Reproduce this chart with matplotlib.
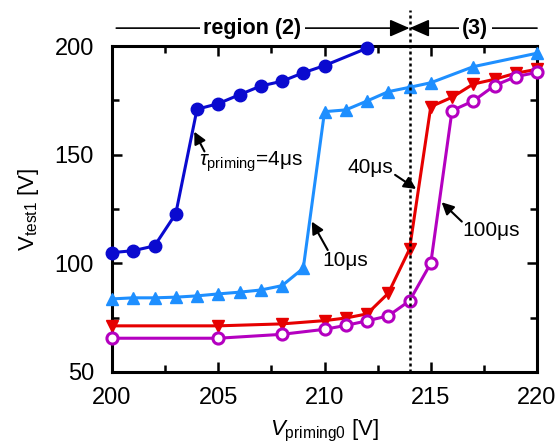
import matplotlib
matplotlib.use("Agg")
import matplotlib.pyplot as plt
import matplotlib.transforms as mtransforms

plt.rcParams['font.family'] = ['Liberation Sans', 'DejaVu Sans']
plt.rcParams['mathtext.fontset'] = 'custom'
plt.rcParams['mathtext.rm'] = 'Liberation Sans'
plt.rcParams['mathtext.it'] = 'Liberation Sans:italic'

# Data
x_4us = [200, 201, 202, 203, 204, 205, 206, 207, 208, 209, 210, 212]
y_4us = [104.9, 105.8, 108.0, 122.8, 170.9, 173.5, 177.6, 181.6, 183.8, 187.7, 191.0, 199.0]

x_10us = [200, 201, 202, 203, 204, 205, 206, 207, 208, 209, 210, 211, 212, 213, 214, 215, 217, 220]
y_10us = [83.6, 84.1, 84.1, 84.4, 85.0, 85.9, 86.7, 87.7, 89.7, 97.7, 169.8, 170.6, 174.7, 179.0, 181.0, 183.1, 190.5, 196.7]

x_40us = [200, 205, 208, 210, 211, 212, 213, 214, 215, 216, 217, 218, 219, 220]
y_40us = [71.2, 71.2, 72.1, 73.6, 74.8, 76.7, 86.2, 106.5, 172.1, 176.4, 182.5, 184.7, 187.5, 189.3]

x_100us = [200, 205, 208, 210, 211, 212, 213, 214, 215, 216, 217, 218, 219, 220]
y_100us = [65.5, 65.5, 67.3, 69.6, 71.4, 73.5, 75.8, 82.7, 100.0, 170.3, 174.7, 181.8, 185.9, 187.9]

fig = plt.figure(figsize=(5.6, 4.47), dpi=100)
ax = fig.add_axes([0.2, 0.168, 0.759, 0.729])

lw = 2.2
ms = 9
ax.plot(x_4us, y_4us, '-o', color='#0A0ACF', lw=lw, ms=ms, zorder=3, clip_on=False)
ax.plot(x_10us, y_10us, '-^', color='#1E8FFF', lw=lw, ms=ms, zorder=3, clip_on=False)
ax.plot(x_40us, y_40us, '-v', color='#E60000', lw=lw, ms=ms, zorder=4, clip_on=False)
ax.plot(x_100us, y_100us, '-o', color='#B400C0', lw=lw, ms=ms - 1,
        mfc='white', mew=2.2, zorder=4, clip_on=False)

ax.set_xlim(200, 220)
ax.set_ylim(50, 200)
ax.set_xticks([200, 205, 210, 215, 220])
ax.set_xticks([202.5, 207.5, 212.5, 217.5], minor=True)
ax.set_yticks([50, 100, 150, 200])
ax.set_yticks([75, 125, 175], minor=True)
ax.tick_params(which='both', direction='in', top=True, right=True, width=1.8,
               labelsize=17)
ax.tick_params(which='major', length=7)
ax.tick_params(which='minor', length=5)
ax.tick_params(axis='y', which='major', pad=13)
ax.tick_params(axis='x', which='major', pad=11)
for s in ax.spines.values():
    s.set_linewidth(2.2)

ax.set_xlabel(r'$V_{\rm priming0}$ [V]', fontsize=16, labelpad=6)
ax.set_ylabel(r'V$_{\rm test1}$ [V]', fontsize=16, labelpad=10)

# vertical dotted line
trans = mtransforms.blended_transform_factory(ax.transData, ax.transAxes)
ax.plot([214, 214], [0, 1.11], transform=trans, color='black', lw=1.8,
        linestyle=(0, (1.2, 1.2)), clip_on=False, zorder=5)

# region annotations
yr = 1.055
arr = dict(arrowstyle='-|>,head_length=0.8,head_width=0.35', color='black',
           lw=1.2, shrinkA=0, shrinkB=0, mutation_scale=15)
ax.annotate('', xy=(214, yr), xytext=(200.2, yr), xycoords=trans,
            textcoords=trans, arrowprops=arr, annotation_clip=False)
ax.annotate('', xy=(214, yr), xytext=(220, yr), xycoords=trans,
            textcoords=trans, arrowprops=arr, annotation_clip=False)
bb = dict(facecolor='white', edgecolor='none', pad=2.5)
ax.text(206.6, yr, 'region (2)', transform=trans, ha='center', va='center',
        fontsize=15.5, fontweight='bold', bbox=bb, zorder=6)
ax.text(217.1, yr, '(3)', transform=trans, ha='center', va='center',
        fontsize=15.5, fontweight='bold', bbox=bb, zorder=6)

# series annotations
a2 = dict(arrowstyle='-|>,head_length=0.6,head_width=0.3', color='black',
          lw=1.5, shrinkA=0, shrinkB=0, mutation_scale=12)
ax.annotate('', xy=(203.87, 160.6), xytext=(204.35, 151.5), arrowprops=a2, zorder=6)
ax.text(204.1, 146.6, r'$\tau_{\rm priming}$=4μs', fontsize=15, ha='left', va='center')

ax.annotate('', xy=(209.4, 119.2), xytext=(210.15, 106.1), arrowprops=a2, zorder=6)
ax.text(209.9, 101.5, '10μs', fontsize=15, ha='left', va='center')

ax.annotate('', xy=(214.31, 134.2), xytext=(213.32, 140.7), arrowprops=a2, zorder=6)
ax.text(213.25, 143.9, '40μs', fontsize=15, ha='right', va='center')

ax.annotate('', xy=(215.51, 128.1), xytext=(216.46, 119.2), arrowprops=a2, zorder=6)
ax.text(216.5, 115.3, '100μs', fontsize=15, ha='left', va='center')

fig.savefig('out.png', dpi=100)
